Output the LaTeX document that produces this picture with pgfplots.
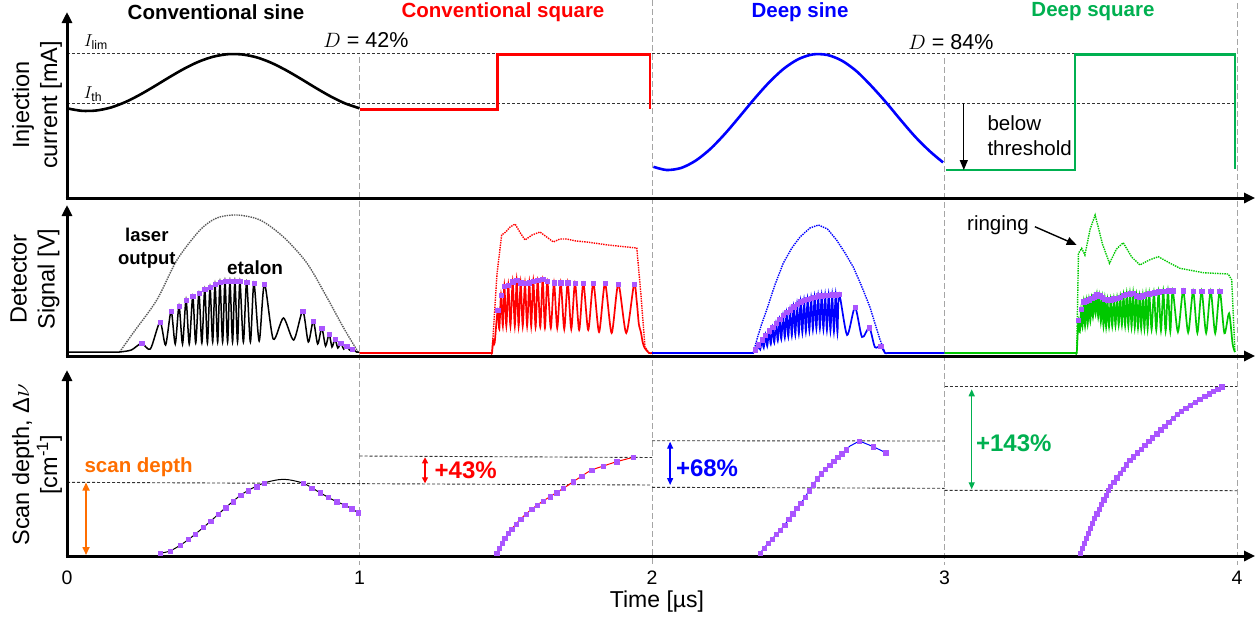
\documentclass[border=0pt]{standalone}
\usepackage{pgfplots}
\pgfplotsset{compat=1.18}
\usepackage{fontspec}
\setmainfont{Liberation Sans}
\usetikzlibrary{arrows.meta}
\definecolor{cred}{RGB}{255,0,0}
\definecolor{cblue}{RGB}{0,0,255}
\definecolor{cgreen}{RGB}{0,176,80}
\definecolor{lgreen}{RGB}{0,200,0}
\definecolor{purp}{RGB}{170,85,255}
\definecolor{corange}{RGB}{255,110,0}
\definecolor{vgray}{RGB}{165,165,165}
\tikzset{axarrow/.style={line width=3pt, -{Triangle[length=11pt,width=10pt]}},
 hd/.style={dash pattern=on 3pt off 2pt, line width=0.9pt, color=black!80},
 vg/.style={dash pattern=on 6pt off 3pt, line width=1pt, color=vgray},
 tk/.style={font=\fontsize{19.5}{22}\selectfont}}
\pgfplotsset{panel/.style={scale only axis, width=1170pt, xmin=0, xmax=4, clip=false, hide axis, anchor=south west},
 pm/.style={only marks, mark=square*, mark size=2.2pt, color=purp, mark options={draw=purp, fill=purp}}}
\begin{document}
\begin{tikzpicture}
\useasboundingbox (0pt,0pt) rectangle (1260pt,-621pt);
% ---------- TOP PANEL ----------
\begin{axis}[panel, at={(67pt,-197pt)}, height=185pt, ymin=0, ymax=185]
\draw[vg] (axis cs:1,140) -- (axis cs:1,-368);
\draw[vg] (axis cs:2,197) -- (axis cs:2,-368);
\draw[vg] (axis cs:3,139) -- (axis cs:3,-368);
\draw[vg] (axis cs:4,194) -- (axis cs:4,-368);
\draw[hd] (axis cs:0,143.5) -- (axis cs:4,143.5);
\draw[hd] (axis cs:0,93.7) -- (axis cs:4,93.7);
\addplot[black, line width=2.6pt, smooth] coordinates {(0,88.7) (0.05,86.2) (0.10,86.5) (0.15,89.5) (0.20,95.0) (0.25,102.4) (0.30,110.9) (0.35,119.8) (0.40,128.2) (0.45,135.3) (0.50,140.3) (0.55,142.8) (0.60,142.5) (0.65,139.5) (0.70,134.0) (0.75,126.6) (0.80,118.1) (0.85,109.2) (0.90,100.8) (0.95,93.7) (1.00,88.7)};
\addplot[cred, line width=2.6pt] coordinates {(1.0,87.7) (1.471,87.7) (1.471,142.5) (1.993,142.5) (1.993,87.7)};
\addplot[cblue, line width=2.6pt, smooth] coordinates {(2.005,30.2) (2.05,27.0) (2.10,29.1) (2.15,36.5) (2.20,48.2) (2.25,63.4) (2.30,80.6) (2.35,98.2) (2.40,114.5) (2.45,128.2) (2.50,137.8) (2.55,142.6) (2.60,142.0) (2.65,136.2) (2.70,125.6) (2.75,111.0) (2.80,94.7) (2.85,77.1) (2.90,60.2) (2.95,45.7) (2.995,34.6)};
\addplot[cgreen, line width=2.6pt] coordinates {(3.005,27) (3.446,27) (3.446,142.5) (3.993,142.5) (3.993,27.7)};
\draw[axarrow] (axis cs:0,-1) -- (axis cs:0,185);
\draw[axarrow] (axis cs:-0.005,-1) -- (axis cs:4.062,-1);
\draw[line width=1.3pt, -{Triangle[length=10pt,width=8pt]}] (axis cs:3.066,94) -- (axis cs:3.066,27);
\node[font=\fontsize{20.5}{25}\selectfont, align=left, anchor=west] at (axis cs:3.135,61) {below\\threshold};
\node[font=\fontsize{17.5}{20}\selectfont] at (axis cs:0.099,155) {$I_{\mathrm{lim}}$};
\node[font=\fontsize{17.5}{20}\selectfont] at (axis cs:0.089,103) {$I_{\mathrm{th}}$};
\node[font=\fontsize{21.5}{25}\selectfont] at (axis cs:1.022,157) {$D$ = 42\%};
\node[font=\fontsize{21.5}{25}\selectfont] at (axis cs:3.022,155) {$D$ = 84\%};
\end{axis}
% ---------- MIDDLE PANEL ----------
\begin{axis}[panel, at={(67pt,-354pt)}, height=149pt, ymin=0, ymax=149]
% conventional sine
\addplot[black!65, densely dotted, line width=1.4pt, smooth] coordinates {(0.18,2) (0.226,21) (0.307,54) (0.376,94) (0.455,124) (0.512,136) (0.58,139) (0.66,134) (0.74,117) (0.82,91) (0.888,57) (0.944,27) (0.995,2)};
\addplot[black, line width=1.5pt, smooth, tension=0.45] coordinates {(0,2) (0.1,2) (0.17,2) (0.18,2) (0.22,4) (0.255,10.7) (0.285,5) (0.318,32) (0.337,9) (0.356,43) (0.37,10) (0.383,48) (0.395,10) (0.407,54) (0.418,10) (0.430,58) (0.44,11) (0.451,61) (0.461,11) (0.471,65) (0.48,11) (0.489,67) (0.498,12) (0.506,70) (0.515,12) (0.523,72) (0.532,12) (0.540,73) (0.549,12) (0.557,73) (0.566,12) (0.574,73) (0.583,12) (0.591,73) (0.603,12) (0.614,72) (0.627,12) (0.639,71) (0.657,13) (0.675,70) (0.705,15) (0.74,36) (0.775,14) (0.806,43) (0.825,12) (0.842,33) (0.857,10) (0.871,26) (0.884,8) (0.896,20) (0.906,7) (0.916,15) (0.926,6) (0.936,11) (0.946,5) (0.956,8) (0.966,4) (0.975,5) (0.99,2) (1.0,2)};
\addplot[pm] coordinates {(0.255,10.7) (0.318,32) (0.356,43) (0.383,48) (0.407,54) (0.430,58) (0.451,61) (0.471,65) (0.489,67) (0.506,70) (0.523,72) (0.540,73) (0.557,73) (0.574,73) (0.591,73) (0.614,72) (0.639,71) (0.675,70) (0.806,43) (0.842,33) (0.871,26) (0.896,20) (0.916,15) (0.936,11) (0.956,8) (0.975,5)};
% conventional square
\addplot[cred, densely dotted, line width=1.4pt] coordinates {(1.0,1) (1.453,1) (1.47,80) (1.486,119) (1.50,122) (1.515,127) (1.532,130) (1.55,121) (1.566,114) (1.59,119) (1.617,122) (1.64,117) (1.663,112) (1.685,115) (1.708,115) (1.74,113) (1.777,112) (1.85,109) (1.948,106) (1.962,60) (1.976,7) (1.99,1) (2.0,1)};
\addplot[cred, line width=1.7pt, smooth, tension=0.45] coordinates {(1.0,1) (1.3,1) (1.44,1) (1.45,1) (1.453,1) (1.457,14) (1.462,11) (1.4724,44) (1.478,25) (1.4838,59) (1.49,28) (1.4952,68) (1.502,28) (1.5088,69) (1.516,28) (1.5237,72.3) (1.531,28) (1.5374,73.7) (1.544,28) (1.551,71.3) (1.558,28) (1.5658,70.7) (1.573,28) (1.5806,71.3) (1.587,28) (1.5942,73) (1.602,27) (1.6091,74) (1.618,27) (1.6262,74.7) (1.634,26) (1.6421,73) (1.654,26) (1.665,71.3) (1.676,26) (1.6878,71.3) (1.70,25) (1.7117,71.3) (1.724,25) (1.7368,71) (1.751,24) (1.7652,71) (1.782,24) (1.7994,71) (1.819,22) (1.8393,70.7) (1.862,21) (1.8849,70) (1.912,21) (1.9385,69.7) (1.948,52) (1.955,30) (1.962,22) (1.968,12) (1.975,6) (1.99,1) (2.0,1)};
\addplot[pm] coordinates {(1.4724,44) (1.4838,59) (1.4952,68) (1.5088,69) (1.5237,72.3) (1.5374,73.7) (1.551,71.3) (1.5658,70.7) (1.5806,71.3) (1.5942,73) (1.6091,74) (1.6262,74.7) (1.6421,73) (1.665,71.3) (1.6878,71.3) (1.7117,71.3) (1.7368,71) (1.7652,71) (1.7994,71) (1.8393,70.7) (1.8849,70) (1.9385,69.7)};
% deep sine
\addplot[cblue, densely dotted, line width=1.4pt] coordinates {(2.0,1) (2.346,1) (2.36,16) (2.375,30) (2.392,44) (2.42,69) (2.449,91) (2.478,106) (2.506,117) (2.54,126) (2.569,129) (2.6,125) (2.631,114) (2.66,101) (2.688,87) (2.715,69) (2.745,47) (2.765,28) (2.78,14) (2.797,1) (3.0,1)};
\addplot[cblue, line width=1.7pt, smooth, tension=0.45] coordinates {(2.0,1) (2.2,1) (2.33,1) (2.342,1) (2.346,1) (2.352,4.4) (2.358,2.8) (2.364,9.3) (2.370,4.5) (2.376,14.2) (2.382,6.3) (2.388,19.1) (2.394,8.0) (2.400,23.3) (2.406,9.8) (2.412,27.1) (2.418,11.5) (2.424,31.0) (2.430,13.3) (2.436,34.8) (2.442,15.0) (2.448,38.7) (2.454,16.4) (2.460,41.6) (2.466,17.4) (2.472,44.4) (2.478,18.4) (2.484,47.2) (2.490,19.4) (2.496,50.0) (2.502,20.4) (2.508,52.5) (2.514,21.4) (2.520,53.6) (2.526,22.4) (2.532,54.8) (2.538,23.4) (2.544,55.9) (2.550,24.4) (2.556,57.1) (2.562,25.4) (2.568,58.2) (2.574,25.7) (2.580,58.5) (2.586,24.8) (2.592,58.7) (2.598,24.0) (2.604,59.0) (2.610,23.2) (2.616,59.2) (2.622,22.4) (2.628,59.4) (2.634,21.6) (2.640,59.6) (2.667,19) (2.694,46.7) (2.718,17) (2.743,26.3) (2.762,7) (2.782,8) (2.797,1) (2.81,1) (2.9,1) (3.0,1)};
\addplot[pm] coordinates {(2.352,4.4) (2.364,9.3) (2.376,14.2) (2.388,19.1) (2.400,23.3) (2.412,27.1) (2.424,31.0) (2.436,34.8) (2.448,38.7) (2.460,41.6) (2.472,44.4) (2.484,47.2) (2.496,50.0) (2.508,52.5) (2.520,53.6) (2.532,54.8) (2.544,55.9) (2.556,57.1) (2.568,58.2) (2.580,58.5) (2.592,58.7) (2.604,59.0) (2.616,59.2) (2.628,59.4) (2.640,59.6) (2.694,46.7) (2.743,26.3) (2.782,8)};
% deep square
\addplot[lgreen, densely dotted, line width=1.4pt] coordinates {(3.0,1) (3.452,1) (3.458,100.7) (3.469,105.7) (3.480,99) (3.498,125) (3.515,139) (3.54,110) (3.564,90.7) (3.588,105) (3.611,111.3) (3.64,97) (3.668,89) (3.70,94) (3.731,97.3) (3.77,91) (3.805,85.7) (3.885,81.3) (3.970,80) (3.982,74) (3.993,2)};
\addplot[lgreen, line width=1.7pt, smooth, tension=0.45] coordinates {(3.0,1) (3.3,1) (3.44,1) (3.448,1) (3.452,1) (3.455,18) (3.458,34) (3.4625,22) (3.467,45) (3.4715,27) (3.476,52.2) (3.4805,28) (3.485,53.3) (3.4895,30) (3.494,54.5) (3.4985,33) (3.503,56) (3.5075,37) (3.512,57.5) (3.5165,40) (3.521,60) (3.5255,37) (3.530,58.2) (3.5345,32) (3.539,56.6) (3.5435,28) (3.548,55) (3.5525,27) (3.557,54) (3.5625,27.2) (3.568,54.5) (3.5735,27.7) (3.579,55.2) (3.5845,28.2) (3.590,56.1) (3.5955,28.8) (3.601,57) (3.6065,28.9) (3.612,58.6) (3.6175,28.2) (3.623,60) (3.6285,27.8) (3.634,60.5) (3.6395,27.2) (3.645,61) (3.6505,26.4) (3.656,58.4) (3.6615,26) (3.667,57.4) (3.6725,25.6) (3.678,58.5) (3.6835,25.3) (3.689,59.6) (3.6945,25) (3.700,60.4) (3.708,24.5) (3.716,61.5) (3.724,24) (3.732,62.2) (3.740,23.4) (3.748,63) (3.756,23) (3.764,63.2) (3.772,22.6) (3.780,63.3) (3.798,22) (3.816,63.3) (3.833,21.5) (3.850,63) (3.8645,21.2) (3.879,63) (3.8945,21) (3.910,63) (3.9255,20.8) (3.941,63) (3.957,20.7) (3.973,40.7) (3.985,10) (3.993,2)};
\addplot[pm] coordinates {(3.458,34) (3.467,45) (3.476,52.2) (3.485,53.3) (3.494,54.5) (3.503,56) (3.512,57.5) (3.521,60) (3.530,58.2) (3.539,56.6) (3.548,55) (3.557,54) (3.568,54.5) (3.579,55.2) (3.590,56.1) (3.601,57) (3.612,58.6) (3.623,60) (3.634,60.5) (3.645,61) (3.656,58.4) (3.667,57.4) (3.678,58.5) (3.689,59.6) (3.700,60.4) (3.716,61.5) (3.732,62.2) (3.748,63) (3.764,63.2) (3.780,63.3) (3.816,63.3) (3.850,63) (3.879,63) (3.910,63) (3.941,63)};
\draw[axarrow] (axis cs:0,-2) -- (axis cs:0,149);
\draw[axarrow] (axis cs:-0.005,-2) -- (axis cs:4.062,-2);
\node[font=\bfseries\fontsize{18.5}{23}\selectfont, align=center] at (axis cs:0.273,106) {laser\\output};
\node[font=\bfseries\fontsize{19}{23}\selectfont] at (axis cs:0.643,86) {etalon};
\node[font=\fontsize{20.5}{24}\selectfont, anchor=east] at (axis cs:3.30,129) {ringing};
\draw[line width=1.4pt, -{Triangle[length=10pt,width=8pt]}] (axis cs:3.309,127.3) -- (axis cs:3.452,109);
\end{axis}
% ---------- BOTTOM PANEL ----------
\begin{axis}[panel, at={(67pt,-555pt)}, height=185pt, ymin=0, ymax=185]
\draw[hd] (axis cs:0,72.7) -- (axis cs:2,70);
\draw[hd] (axis cs:2,67.7) -- (axis cs:3,66.7);
\draw[hd] (axis cs:3,64.7) -- (axis cs:4,64.3);
\draw[hd] (axis cs:1,99) -- (axis cs:2,97.5);
\draw[hd] (axis cs:2,114.3) -- (axis cs:3,114);
\draw[hd] (axis cs:3,168.3) -- (axis cs:4,168.3);
% conventional sine
\addplot[black, line width=1pt, smooth] coordinates {(0.318,1.7) (0.352,4) (0.392,10.7) (0.432,19.3) (0.489,33.3) (0.546,48.3) (0.603,61.7) (0.671,71.7) (0.74,75.7) (0.808,71.7) (0.865,62.3) (0.91,55) (0.956,49) (0.996,42.3)};
\addplot[pm] coordinates {(0.318,1.7) (0.352,4) (0.386,9.7) (0.415,15.6) (0.438,20.8) (0.466,27.6) (0.491,33.8) (0.517,40.7) (0.543,47.5) (0.568,53.5) (0.594,59.6) (0.620,64.2) (0.649,68.5) (0.675,72) (0.808,71.7) (0.836,67.1) (0.865,62.3) (0.893,57.8) (0.922,53.4) (0.950,49.8) (0.973,46.2) (0.996,42.3)};
% conventional square
\addplot[cred, line width=1pt, smooth] coordinates {(1.469,1.7) (1.487,11.7) (1.509,21.7) (1.535,31) (1.569,41) (1.608,50) (1.651,58.3) (1.697,66.7) (1.760,79) (1.794,85) (1.834,89) (1.879,93.3) (1.936,97.7)};
\addplot[pm] coordinates {(1.469,1.7) (1.478,6.7) (1.487,11.7) (1.497,16.7) (1.509,21.7) (1.520,25.7) (1.535,31) (1.551,36) (1.569,41) (1.589,45.7) (1.608,50) (1.628,54) (1.651,58.3) (1.674,62.3) (1.697,66.7) (1.731,73.3) (1.760,79) (1.794,85) (1.834,89) (1.879,93.3) (1.936,97.7)};
% deep sine
\addplot[cblue, line width=1pt] coordinates {(2.369,1.7) (2.392,10) (2.42,19) (2.449,28.3) (2.48,41) (2.517,55) (2.545,68) (2.574,80) (2.60,88) (2.631,96.7) (2.655,103) (2.677,109) (2.709,114) (2.757,108.3) (2.799,102.3)};
\addplot[pm] coordinates {(2.369,1.7) (2.383,6.8) (2.397,11.6) (2.411,16.1) (2.425,20.6) (2.439,25.0) (2.453,30.0) (2.467,35.7) (2.481,41.4) (2.495,46.7) (2.509,52.0) (2.523,57.8) (2.537,64.3) (2.551,70.5) (2.565,76.3) (2.579,81.5) (2.593,85.8) (2.607,90.0) (2.621,93.9) (2.635,97.8) (2.649,101.4) (2.663,105.2) (2.709,114) (2.757,108.3) (2.799,102.3)};
% deep square
\addplot[cgreen, line width=1pt, smooth] coordinates {(3.463,1.7) (3.509,35) (3.566,68.3) (3.634,95) (3.714,118.3) (3.805,143.3) (3.885,158.3) (3.948,168.3)};
\addplot[pm] coordinates {(3.463,1.7) (3.470,6.8) (3.477,11.8) (3.484,17.0) (3.491,22.0) (3.498,27.0) (3.505,32.1) (3.512,36.7) (3.520,41.4) (3.528,46.1) (3.536,50.8) (3.544,55.4) (3.552,60.1) (3.560,64.8) (3.567,68.7) (3.578,73.0) (3.589,77.3) (3.600,81.7) (3.611,86.0) (3.622,90.3) (3.633,94.6) (3.646,98.5) (3.659,102.3) (3.672,106.1) (3.685,109.9) (3.698,113.7) (3.711,117.5) (3.725,121.3) (3.739,125.2) (3.753,129.0) (3.767,132.9) (3.781,136.7) (3.795,140.6) (3.809,144.1) (3.825,147.1) (3.841,150.1) (3.857,153.1) (3.873,156.1) (3.889,158.9) (3.904,161.3) (3.919,163.7) (3.934,166.1) (3.948,168.3)};
% annotations
\draw[corange, line width=1.6pt, {Triangle[length=8pt,width=7pt]}-{Triangle[length=8pt,width=7pt]}] (axis cs:0.065,0) -- (axis cs:0.065,72.5);
\node[corange, font=\bfseries\fontsize{20.5}{24}\selectfont, anchor=west] at (axis cs:0.048,88) {scan depth};
\draw[cred, line width=1.3pt, {Triangle[length=6pt,width=6pt]}-{Triangle[length=6pt,width=6pt]}] (axis cs:1.224,71.7) -- (axis cs:1.224,97.7);
\node[cred, font=\bfseries\fontsize{24}{28}\selectfont, anchor=west] at (axis cs:1.245,85) {+43\%};
\draw[cblue, line width=1.3pt, {Triangle[length=7pt,width=6pt]}-{Triangle[length=7pt,width=6pt]}] (axis cs:2.062,70) -- (axis cs:2.062,113.3);
\node[cblue, font=\bfseries\fontsize{24}{28}\selectfont, anchor=west] at (axis cs:2.070,87) {+68\%};
\draw[cgreen, line width=1.3pt, {Triangle[length=7pt,width=6pt]}-{Triangle[length=7pt,width=6pt]}] (axis cs:3.093,65.7) -- (axis cs:3.093,165.7);
\node[cgreen, font=\bfseries\fontsize{24}{28}\selectfont, anchor=west] at (axis cs:3.096,112) {+143\%};
\draw[axarrow] (axis cs:0,-1) -- (axis cs:0,185);
\draw[axarrow] (axis cs:-0.005,-1) -- (axis cs:4.062,-1);
\node[tk] at (axis cs:0,-23) {0};
\node[tk] at (axis cs:1,-23) {1};
\node[tk] at (axis cs:2,-23) {2};
\node[tk] at (axis cs:3,-23) {3};
\node[tk] at (axis cs:4,-23) {4};
\node[font=\fontsize{23}{26}\selectfont] at (axis cs:2.017,-47) {Time [µs]};
\end{axis}
% ---------- titles and y labels ----------
\node[font=\bfseries\fontsize{20.5}{24}\selectfont] at (216pt,-12pt) {Conventional sine};
\node[cred, font=\bfseries\fontsize{20.5}{24}\selectfont] at (503pt,-12pt) {Conventional square};
\node[cblue, font=\bfseries\fontsize{20.5}{24}\selectfont] at (800pt,-12pt) {Deep sine};
\node[cgreen, font=\bfseries\fontsize{20.5}{24}\selectfont] at (1093pt,-12pt) {Deep square};
\node[rotate=90, align=center, font=\fontsize{23.5}{28}\selectfont] at (37pt,-105pt) {Injection\\current [mA]};
\node[rotate=90, align=center, font=\fontsize{23.5}{28}\selectfont] at (35pt,-279pt) {Detector\\Signal [V]};
\node[rotate=90, align=center, font=\fontsize{23.5}{28}\selectfont] at (37pt,-465pt) {Scan depth, Δ$\nu$\\{}[cm\textsuperscript{-1}]};
\end{tikzpicture}
\end{document}
